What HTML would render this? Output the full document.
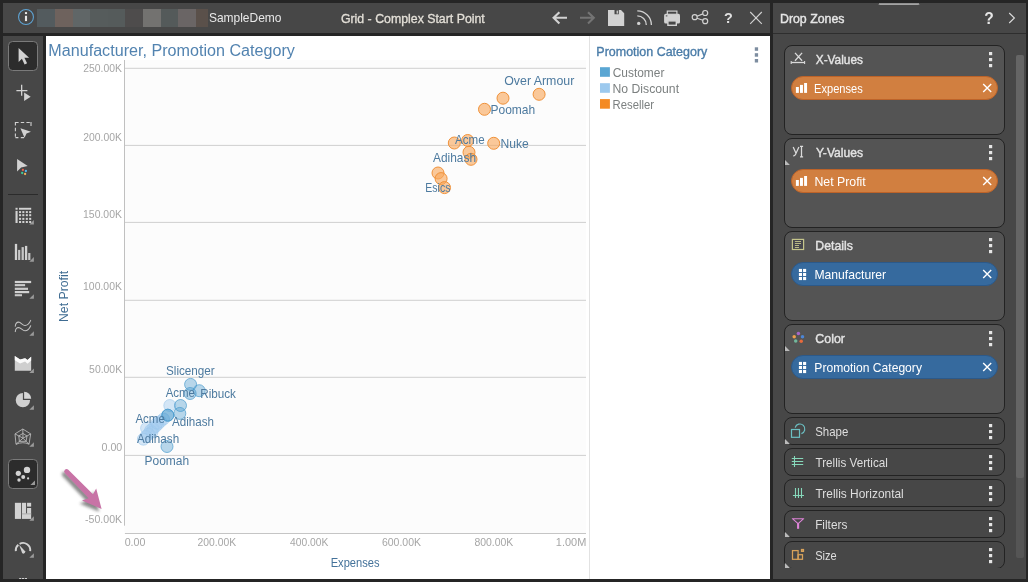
<!DOCTYPE html>
<html lang="en"><head><meta charset="utf-8"><title>Grid - Complex Start Point</title>
<style>
html,body{margin:0;padding:0}
body{width:1028px;height:582px;overflow:hidden;background:#252525;position:relative;font-family:"Liberation Sans", sans-serif;}
div,svg,span,i{position:absolute;box-sizing:border-box}
.t{white-space:nowrap;line-height:20px;transform-origin:0 0;display:inline-block}
.t.b{font-weight:bold}
.ov{left:0;top:0;overflow:visible}
#topbar{left:3px;top:3px;width:767px;height:30px;background:#474747}
.blur i{top:6px;height:17.8px;display:block}
#toolbar{left:3px;top:36px;width:40px;height:543px;background:#474747}
.sel{left:5px;width:30px;height:30px;border:1px solid #7a7a7a;border-radius:4.5px;background:#2c2c2c}
.sep{left:5px;top:158px;width:30px;height:1px;background:#2b2b2b}
#canvas{left:46px;top:36px;width:724px;height:543px;background:#fff;overflow:hidden}
#panel{left:773px;top:3px;width:253px;height:576px;background:#474747;overflow:hidden}
.hline{left:0;top:30px;width:253px;height:1px;background:#2e2e2e}
.track{left:243px;top:52px;width:8px;height:502.6px;background:#555;border-radius:2px}
.thumb{left:243px;top:52px;width:8px;height:423.4px;background:#656565;border-radius:2px}
#zones{left:0;top:0;width:240px;height:564.6px;overflow:hidden}
.zone{left:11px;width:221px;border:1px solid #232323;border-radius:8px}
.zone.big{height:90px;background:#545454}
.zone.small{background:#474747}
.pill{left:6px;top:30px;width:207px;height:24px;border-radius:12px}
.pill.o{background:#d17f40;border:1px solid #bd6329}
.pill.b{background:#366a9e;border:1px solid #2c5989}
</style></head>
<body>

<div id="topbar">
  <div class="blur"><i style="left:34.0px;width:18.3px;background:#535b5e"></i><i style="left:52.0px;width:17.8px;background:#6e625d"></i><i style="left:69.5px;width:17.8px;background:#606667"></i><i style="left:87.0px;width:17.9px;background:#565c5c"></i><i style="left:104.6px;width:17.9px;background:#555b5b"></i><i style="left:122.2px;width:18.2px;background:#4e4c4c"></i><i style="left:140.1px;width:18.1px;background:#737270"></i><i style="left:157.9px;width:17.3px;background:#545a5a"></i><i style="left:174.9px;width:18.8px;background:#6a6565"></i><i style="left:193.4px;width:11.9px;background:#5a504a"></i></div>
  <span class="t " style="left:205px;top:5px;font-size:12.6px;color:#e8e8e8;transform:translateX(0.89px) scaleX(0.9520);">SampleDemo</span>
  <span class="t " style="left:337px;top:6px;font-size:12.6px;color:#e4e0d8;transform:translateX(0.91px) scaleX(0.9788);-webkit-text-stroke:0.3px #e4e0d8;">Grid - Complex Start Point</span>
  <svg class="ov" width="767" height="30" viewBox="3 3 767 30">
    <!-- info -->
    <circle cx="26" cy="17" r="7.45" fill="none" stroke="#5ea3d3" stroke-width="1.1"/>
    <rect x="24.95" y="15.8" width="2.1" height="5.3" fill="#e8e8e8"/><rect x="24.95" y="12.1" width="2.1" height="1.95" fill="#e8e8e8"/>
    <!-- back -->
    <path d="M567 17.8H553.6M559.4 12.2L553.6 17.8l5.8 5.6" fill="none" stroke="#d2d2d2" stroke-width="2.1"/>
    <!-- forward (disabled) -->
    <path d="M580 17.8h13.6M588 12.2l5.8 5.6-5.8 5.6" fill="none" stroke="#747474" stroke-width="2.1"/>
    <!-- save -->
    <path d="M608 10h13l3.2 3.2V26H608z M614.5 10v4.2h4.3V10z" fill="#d2d2d2" fill-rule="evenodd"/>
    <rect x="616.6" y="10.6" width="1.3" height="3" fill="#d2d2d2"/>
    <!-- rss -->
    <circle cx="638.7" cy="23.4" r="1.7" fill="#d2d2d2"/>
    <path d="M637.3 15.9a9 9 0 0 1 9 9" fill="none" stroke="#d2d2d2" stroke-width="1.3"/>
    <path d="M637.3 10.9a14 14 0 0 1 14.1 14" fill="none" stroke="#d2d2d2" stroke-width="1.3"/>
    <!-- print -->
    <rect x="664.1" y="13.8" width="15.9" height="9.8" rx="1.6" fill="#d2d2d2"/>
    <rect x="667.3" y="11.1" width="9.6" height="3.2" fill="#474747" stroke="#d2d2d2" stroke-width="1.2"/>
    <rect x="667.9" y="20.9" width="8.4" height="4.4" fill="#474747" stroke="#d2d2d2" stroke-width="1.4"/>
    <rect x="665.8" y="15.4" width="1.6" height="1" fill="#474747"/>
    <!-- share -->
    <g fill="none" stroke="#d2d2d2" stroke-width="1.2"><circle cx="694.7" cy="17.2" r="2.5"/><circle cx="705.2" cy="13" r="2.5"/><circle cx="705.2" cy="21.2" r="2.5"/><path d="M697 16.2l5.9-2.3M697 18.2l5.9 2.1"/></g>
    <!-- close -->
    <path d="M750.2 12l11.6 11.8M761.8 12L750.2 23.8" stroke="#d2d2d2" stroke-width="1.1" fill="none"/>
  </svg>
  <span class="t b" style="left:720px;top:5px;font-size:15px;color:#e0e0e0;transform:translateX(0.88px) scaleX(0.9600);">?</span>
</div>

<div id="toolbar">
  <div class="sel" style="top:5px"></div>
  <div class="sel" style="top:423px"></div>
  <div class="sep"></div>
  <svg class="ov" width="40" height="543" viewBox="3 36 40 543">
    <g fill="#d2d2d2">
    <!-- pointer -->
    <path d="M18.6 48.1V62l3.3-3.2 2.7 5.6 2.5-1.2-2.7-5.5h4.7z"/>
    <!-- plus + arrow -->
    <path d="M21 84.8h1.3v5.2h5.1v1.3h-5.1v4.5H21v-4.5h-4.6V90H21z"/>
    <path d="M24.1 92.6l6.6 4.2-6.6 4.1z"/>
    <!-- marquee -->
    <path d="M20.4 128.2l10.6 3.5-4.5 1.8-2 4.2z"/>
    <!-- pointer + dots -->
    <path d="M17.1 159.1l10.6 6.9-6.6 1.5-4 3.9z"/>
    </g>
    <path d="M15.4 122.5h3.2M20.8 122.5h3.4M26.4 122.5h3.4M31 122.1v4M15.4 122.1v3.4M15.4 127.8v3.4M15.4 133.4v3.4M15.4 137.6h3M20.8 137.6h3.2" fill="none" stroke="#d2d2d2" stroke-width="1.1"/>
    <circle cx="22.9" cy="169.9" r="1.15" fill="#ea6350"/><circle cx="25.9" cy="171" r="1.15" fill="#52b8ee"/>
    <circle cx="22.2" cy="173" r="1.15" fill="#3ecb9b"/><circle cx="25.1" cy="174" r="1.15" fill="#f2b25e"/>
    <!-- grid -->
    <g fill="#d2d2d2">
      <rect x="15.5" y="207.8" width="2.1" height="1.9"/><rect x="15.5" y="210.9" width="2.1" height="12.1"/><rect x="19" y="207.8" width="12.2" height="1.9"/>
      <rect x="19.05" y="211.1" width="2.05" height="2"/><rect x="19.05" y="214.2" width="2.05" height="2"/><rect x="19.05" y="217.85" width="2.05" height="2"/><rect x="19.05" y="221.0" width="2.05" height="2"/><rect x="22.3" y="211.1" width="2.05" height="2"/><rect x="22.3" y="214.2" width="2.05" height="2"/><rect x="22.3" y="217.85" width="2.05" height="2"/><rect x="22.3" y="221.0" width="2.05" height="2"/><rect x="25.8" y="211.1" width="2.05" height="2"/><rect x="25.8" y="214.2" width="2.05" height="2"/><rect x="25.8" y="217.85" width="2.05" height="2"/><rect x="25.8" y="221.0" width="2.05" height="2"/><rect x="29.15" y="211.1" width="2.05" height="2"/><rect x="29.15" y="214.2" width="2.05" height="2"/><rect x="29.15" y="217.85" width="2.05" height="2"/><rect x="29.15" y="221.0" width="2.05" height="2"/>
    </g>
    <path d="M33.9 220.0V224.6H29.299999999999997z" fill="#9a9a9a"/>
    <!-- bars -->
    <g fill="#d2d2d2"><rect x="14.85" y="243.9" width="2.3" height="16.1"/><rect x="18.1" y="249.9" width="2.2" height="10.1" fill="#c6c6c6"/><rect x="21.55" y="247.1" width="2.3" height="12.9" fill="#c6c6c6"/><rect x="24.95" y="245.9" width="2.3" height="14.1"/><rect x="28.2" y="253" width="2.2" height="7" fill="#c6c6c6"/></g>
    <path d="M33.9 257.09999999999997V261.7H29.299999999999997z" fill="#9a9a9a"/>
    <!-- horizontal bars -->
    <g fill="#d2d2d2"><rect x="14.8" y="280.9" width="16.35" height="2.2"/><rect x="14.8" y="284.1" width="10.3" height="2.1" fill="#cacaca"/><rect x="14.8" y="287.7" width="13.2" height="2.2" fill="#cacaca"/><rect x="14.8" y="291" width="14.4" height="2.2"/><rect x="14.8" y="294.2" width="7.2" height="2.05" fill="#cacaca"/></g>
    <path d="M33.9 294.2V298.8H29.299999999999997z" fill="#9a9a9a"/>
    <!-- waves -->
    <g fill="none" stroke="#c2c2c2" stroke-width="1.05" stroke-linecap="round"><path d="M15.3 326.3C15.5 323.2 17.2 322.1 18.6 322.1 21 322.2 22.6 325.6 25 325.5 27.4 325.4 29.6 323 30.7 320.4"/><path d="M15.3 331.6C15.5 328.5 17.2 327.4 18.6 327.4 21 327.5 22.6 330.9 25 330.8 27.4 330.7 29.6 328.3 30.7 325.7"/></g>
    <path d="M33.9 331.2V335.8H29.299999999999997z" fill="#9a9a9a"/>
    <!-- area -->
    <path d="M14.8 356L20.1 359.6 25.1 358.2 27.5 359.9 31.15 356.7V370.7H14.8z" fill="#cfcfcf"/>
    <path d="M14.8 356L20.1 359.6 25.1 358.2 27.5 359.9 31.15 356.7V360.6L27.5 363.7 25.1 361.5 20.1 363.5 14.8 360.3z" fill="#fafafa"/>
    <path d="M33.9 368.4V373H29.299999999999997z" fill="#9a9a9a"/>
    <!-- pie -->
    <path d="M22.9 400.1V392.9A7.2 7.2 0 1 0 30.1 400.1z" fill="#d0d0d0"/>
    <path d="M24.1 398.7V391.7A7.1 7.1 0 0 1 31.2 398.7z" fill="#d6d6d6"/>
    <path d="M33.9 405.2V409.8H29.299999999999997z" fill="#9a9a9a"/>
    <!-- radar -->
    <g fill="none" stroke="#bdbdbd" stroke-width="0.85" stroke-linejoin="round"><path d="M22.8 429 L30.7 433.9 L29 444.2 Q23 441.2 16 444.3 L15 433.9z"/><path d="M22.9 433.4 L27.0 436.0 L26.1 441.3 L19.4 441.4 L18.8 436.0z"/><path d="M23 438.2L22.8 429M23 438.2L30.7 433.9M23 438.2L29 444.2M23 438.2L16 444.3M23 438.2L15 433.9"/></g>
    <path d="M33.9 442.2V446.8H29.299999999999997z" fill="#9a9a9a"/>
    <!-- scatter -->
    <g fill="#d2d2d2"><circle cx="27" cy="469.9" r="3.2"/><circle cx="18.3" cy="473.3" r="2.6"/><circle cx="23.2" cy="477.1" r="2"/><circle cx="19" cy="480" r="1.7"/><circle cx="28.1" cy="478.4" r="1.1"/></g>
    <path d="M35 480.4V485H30.4z" fill="#9a9a9a"/>
    <!-- treemap -->
    <g fill="#d2d2d2"><rect x="14.9" y="502.8" width="6.15" height="16.1"/><rect x="21.9" y="502.8" width="4.2" height="11"/><rect x="27.05" y="502.8" width="4.1" height="3.8"/><rect x="27.05" y="508" width="4.1" height="5.8"/><rect x="21.9" y="513.6" width="9.25" height="5.3"/><rect x="21.9" y="513.5" width="9.25" height="1" fill="#b4b4b4"/></g>
    <path d="M33.9 516.1999999999999V520.8H29.299999999999997z" fill="#9a9a9a"/>
    <!-- gauge -->
    <path d="M15.8 551.08A7.25 7.25 0 0 1 18.34 544.65M19.6 543.8A7.25 7.25 0 0 1 30.2 551.08" fill="none" stroke="#d2d2d2" stroke-width="1.9"/>
    <path d="M19.1 544.8L25.05 551.3A1.75 1.75 0 0 1 22.15 553.1z" fill="#d2d2d2"/>
    <path d="M33.9 553.1999999999999V557.8H29.299999999999997z" fill="#9a9a9a"/>
    <!-- cut icon at bottom -->
    <path d="M19.2 578.5h2M21.9 578.5h2.4M25 578.5h2" stroke="#d2d2d2" stroke-width="1"/>
  </svg>
</div>

<div id="canvas">
  <svg class="ov" width="724" height="543" viewBox="46 36 724 543">
    <rect x="124.5" y="60" width="461.5" height="472" fill="#fcfcfc"/>
    <path d="M125 68.3H586" stroke="#cfcfcf" stroke-width="1"/><path d="M125 145.4H586" stroke="#cfcfcf" stroke-width="1"/><path d="M125 222.4H586" stroke="#cfcfcf" stroke-width="1"/><path d="M125 300.3H586" stroke="#cfcfcf" stroke-width="1"/><path d="M125 377.3H586" stroke="#cfcfcf" stroke-width="1"/><path d="M125 455.4H586" stroke="#cfcfcf" stroke-width="1"/>
    <path d="M124.5 60V525.7" stroke="#c0c0c0" stroke-width="1"/>
    <path d="M124.9 533.45H586" stroke="#c2c2c2" stroke-width="1"/>
    <path d="M589.5 36V579" stroke="#e2e2e2" stroke-width="1"/>
    <g stroke-width="1" fill-opacity="0.62">
      </g><g stroke-width="1" fill-opacity="0.45" stroke-opacity="0.6"><circle cx="169.8" cy="405.5" r="6" fill="#a4cdf0" stroke="#9cc8ec"/><circle cx="163.5" cy="419" r="6" fill="#a4cdf0" stroke="#9cc8ec"/><circle cx="160.5" cy="421.5" r="6" fill="#a4cdf0" stroke="#9cc8ec"/><circle cx="158" cy="424" r="6" fill="#a4cdf0" stroke="#9cc8ec"/><circle cx="155.5" cy="426.5" r="6" fill="#a4cdf0" stroke="#9cc8ec"/><circle cx="153" cy="428.5" r="6" fill="#a4cdf0" stroke="#9cc8ec"/><circle cx="150.5" cy="430.5" r="6" fill="#a4cdf0" stroke="#9cc8ec"/><circle cx="146.6" cy="428.2" r="6" fill="#a4cdf0" stroke="#9cc8ec"/><circle cx="152" cy="432" r="6" fill="#a4cdf0" stroke="#9cc8ec"/><circle cx="148.5" cy="434" r="6" fill="#a4cdf0" stroke="#9cc8ec"/><circle cx="146" cy="436.5" r="6" fill="#a4cdf0" stroke="#9cc8ec"/><circle cx="143.4" cy="439.2" r="6" fill="#a4cdf0" stroke="#9cc8ec"/><circle cx="157" cy="423" r="6" fill="#a4cdf0" stroke="#9cc8ec"/></g>
    <g stroke-width="1" fill-opacity="0.39" stroke-opacity="0.7"><circle cx="190.6" cy="384.4" r="6" fill="#4a9bcd" stroke="#4a9bcd"/><circle cx="190.1" cy="393.5" r="6" fill="#4a9bcd" stroke="#4a9bcd"/><circle cx="199.2" cy="390.7" r="6" fill="#4a9bcd" stroke="#4a9bcd"/><circle cx="180.5" cy="405.5" r="6" fill="#4a9bcd" stroke="#4a9bcd"/><circle cx="179.8" cy="413.4" r="6" fill="#4a9bcd" stroke="#4a9bcd"/><circle cx="167.8" cy="415.2" r="6" fill="#4a9bcd" stroke="#4a9bcd"/><circle cx="167.8" cy="415.2" r="6" fill="#4a9bcd" stroke="#4a9bcd"/><circle cx="167.0" cy="446.5" r="6" fill="#4a9bcd" stroke="#4a9bcd"/></g><g stroke-width="1" fill-opacity="0.62">
      <circle cx="539.1" cy="94.3" r="6" fill="#f9a85c" stroke="#f0923a"/><circle cx="503" cy="98.2" r="6" fill="#f9a85c" stroke="#f0923a"/><circle cx="484.5" cy="109.3" r="6" fill="#f9a85c" stroke="#f0923a"/><circle cx="493.7" cy="143.3" r="6" fill="#f9a85c" stroke="#f0923a"/><circle cx="467.7" cy="140.5" r="6" fill="#f9a85c" stroke="#f0923a"/><circle cx="454.3" cy="143" r="6" fill="#f9a85c" stroke="#f0923a"/><circle cx="469" cy="152.3" r="6" fill="#f9a85c" stroke="#f0923a"/><circle cx="471" cy="159.3" r="6" fill="#f9a85c" stroke="#f0923a"/><circle cx="438" cy="173" r="6" fill="#f9a85c" stroke="#f0923a"/><circle cx="441.1" cy="178.6" r="6" fill="#f9a85c" stroke="#f0923a"/><circle cx="444.5" cy="187.6" r="6" fill="#f9a85c" stroke="#f0923a"/>
    </g>
    <!-- legend swatches -->
    <rect x="600" y="67.2" width="9.9" height="9.6" fill="#5aa6d3"/>
    <rect x="600" y="83.2" width="9.9" height="9.6" fill="#9cc9ee"/>
    <rect x="600" y="99.1" width="9.9" height="9.6" fill="#f48a22"/>
    <g fill="#7d8da0"><rect x="754.8" y="47.3" width="3.3" height="3.5"/><rect x="754.8" y="53.2" width="3.3" height="3.5"/><rect x="754.8" y="59" width="3.3" height="3.5"/></g>
    <!-- annotation arrow -->
    <defs><filter id="sh" x="-40%" y="-40%" width="180%" height="180%"><feGaussianBlur stdDeviation="1.6"/></filter></defs>
    <g transform="translate(-2.4,2.8)" opacity="0.55" filter="url(#sh)"><path d="M64.9 473.2L88.6 498.3 82 500.6 101.6 509 96.2 488.4 93 494.3 68.3 469.8A2.4 2.4 0 0 0 64.9 473.2z" fill="#2a2a2a"/></g>
    <path d="M64.9 473.2L88.6 498.3 82 500.6 101.6 509 96.2 488.4 93 494.3 68.3 469.8A2.4 2.4 0 0 0 64.9 473.2z" fill="#c873a6"/>
  </svg>
  <span class="t " style="left:2px;top:5px;font-size:15.6px;color:#5283b0;transform:translateX(0.31px) scaleX(1.0346);">Manufacturer, Promotion Category</span>
  <span class="t " style="left:37px;top:22px;font-size:10.5px;color:#a6a6a6;transform:translateX(0.31px) scaleX(0.9870);">250.00K</span><span class="t " style="left:37px;top:91px;font-size:10.5px;color:#a6a6a6;transform:translateX(0.31px) scaleX(0.9870);">200.00K</span><span class="t " style="left:37px;top:168px;font-size:10.5px;color:#a6a6a6;transform:translateX(0.05px) scaleX(0.9935);">150.00K</span><span class="t " style="left:37px;top:240px;font-size:10.5px;color:#a6a6a6;transform:translateX(0.05px) scaleX(0.9935);">100.00K</span><span class="t " style="left:43px;top:323px;font-size:10.5px;color:#a6a6a6;transform:translateX(0.10px) scaleX(0.9908);">50.00K</span><span class="t " style="left:55px;top:401px;font-size:10.5px;color:#a6a6a6;transform:translateX(0.49px) scaleX(1.0154);">0.00</span><span class="t " style="left:39px;top:473px;font-size:10.5px;color:#a6a6a6;transform:translateX(0.10px) scaleX(1.0056);">-50.00K</span>
  <span class="t " style="left:78px;top:496px;font-size:10.5px;color:#a6a6a6;transform:translateX(0.69px) scaleX(1.0154);">0.00</span><span class="t " style="left:151px;top:496px;font-size:10.5px;color:#a6a6a6;transform:translateX(0.61px) scaleX(0.9844);">200.00K</span><span class="t " style="left:244px;top:496px;font-size:10.5px;color:#a6a6a6;transform:translateX(0.06px) scaleX(0.9781);">400.00K</span><span class="t " style="left:335px;top:496px;font-size:10.5px;color:#a6a6a6;transform:translateX(0.90px) scaleX(1.0000);">600.00K</span><span class="t " style="left:428px;top:496px;font-size:10.5px;color:#a6a6a6;transform:translateX(0.40px) scaleX(0.9948);">800.00K</span><span class="t " style="left:509px;top:496px;font-size:10.5px;color:#a6a6a6;transform:translateX(0.82px) scaleX(1.0436);">1.00M</span>
  <span class="t " style="left:284px;top:517px;font-size:11.9px;color:#44729a;transform:translateX(0.66px) scaleX(0.9360);">Expenses</span>
  <span class="t " style="left:8px;top:285.83px;font-size:11.9px;color:#3f6c92;transform:rotate(-90deg) scaleX(1.0309);">Net Profit</span>
  <span class="t " style="left:458px;top:35px;font-size:12.1px;color:#4d7a9f;transform:translateX(0.19px) scaleX(1.0229);">Over Armour</span>
  <span class="t " style="left:444px;top:64px;font-size:12.1px;color:#4d7a9f;transform:translateX(0.51px) scaleX(0.9919);">Poomah</span>
  <span class="t " style="left:409px;top:94px;font-size:12.1px;color:#4d7a9f;transform:translateX(0.00px) scaleX(0.9574);">Acme</span>
  <span class="t " style="left:454px;top:98px;font-size:12.1px;color:#4d7a9f;transform:translateX(0.40px) scaleX(1.0019);">Nuke</span>
  <span class="t " style="left:387px;top:112px;font-size:12.1px;color:#4d7a9f;transform:translateX(0.00px) scaleX(0.9837);">Adihash</span>
  <span class="t " style="left:379px;top:142px;font-size:12.1px;color:#4d7a9f;transform:translateX(0.33px) scaleX(0.8691);">Esics</span>
  <span class="t " style="left:120px;top:325px;font-size:12.1px;color:#4d7a9f;transform:translateX(0.02px) scaleX(0.9668);">Slicenger</span>
  <span class="t " style="left:119px;top:347px;font-size:12.1px;color:#4d7a9f;transform:translateX(0.70px) scaleX(0.9475);">Acme</span>
  <span class="t " style="left:154px;top:348px;font-size:12.1px;color:#4d7a9f;transform:translateX(0.23px) scaleX(0.9667);">Ribuck</span>
  <span class="t " style="left:126px;top:376px;font-size:12.1px;color:#4d7a9f;transform:translateX(0.00px) scaleX(0.9581);">Adihash</span>
  <span class="t " style="left:89px;top:373px;font-size:12.1px;color:#4d7a9f;transform:translateX(0.40px) scaleX(0.9508);">Acme</span>
  <span class="t " style="left:91px;top:393px;font-size:12.1px;color:#4d7a9f;transform:translateX(0.00px) scaleX(0.9651);">Adihash</span>
  <span class="t " style="left:98px;top:415px;font-size:12.1px;color:#4d7a9f;transform:translateX(0.51px) scaleX(0.9896);">Poomah</span>
  <span class="t " style="left:550px;top:6px;font-size:12.4px;color:#4a7ca8;transform:translateX(0.34px) scaleX(1.0068);-webkit-text-stroke:0.35px #4a7ca8;">Promotion Category</span>
  <span class="t " style="left:566px;top:27px;font-size:12.1px;color:#7c8080;transform:translateX(0.71px) scaleX(0.9855);">Customer</span>
  <span class="t " style="left:566px;top:43px;font-size:12.1px;color:#7c8080;transform:translateX(0.49px) scaleX(1.0100);">No Discount</span>
  <span class="t " style="left:566px;top:59px;font-size:12.1px;color:#7c8080;transform:translateX(0.57px) scaleX(0.9341);">Reseller</span>
</div>

<div id="panel">
  <div class="hline"></div>
  <div class="track"></div><div class="thumb"></div>
  <div id="zones"><div class="zone big" style="top:42px"><div class="pill o"></div></div><span class="t " style="left:42px;top:47px;font-size:12.6px;color:#e4e4e4;transform:translateX(0.80px) scaleX(0.9380);-webkit-text-stroke:0.4px #e4e4e4;">X-Values</span><span class="t " style="left:41px;top:76px;font-size:12.2px;color:#ffffff;transform:translateX(0.09px) scaleX(0.9096);">Expenses</span><div class="zone big" style="top:135px"><div class="pill o"></div></div><span class="t " style="left:42px;top:140px;font-size:12.6px;color:#e4e4e4;transform:translateX(0.90px) scaleX(0.9600);-webkit-text-stroke:0.4px #e4e4e4;">Y-Values</span><span class="t " style="left:41px;top:169px;font-size:12.2px;color:#ffffff;transform:translateX(0.39px) scaleX(1.0111);">Net Profit</span><div class="zone big" style="top:228px"><div class="pill b"></div></div><span class="t " style="left:42px;top:233px;font-size:12.6px;color:#e4e4e4;transform:translateX(0.37px) scaleX(0.9760);-webkit-text-stroke:0.4px #e4e4e4;">Details</span><span class="t " style="left:41px;top:262px;font-size:12.2px;color:#ffffff;transform:translateX(0.40px) scaleX(0.9979);">Manufacturer</span><div class="zone big" style="top:321px"><div class="pill b"></div></div><span class="t " style="left:42px;top:326px;font-size:12.6px;color:#e4e4e4;transform:translateX(0.31px) scaleX(0.9831);-webkit-text-stroke:0.4px #e4e4e4;">Color</span><span class="t " style="left:41px;top:355px;font-size:12.2px;color:#ffffff;transform:translateX(0.31px) scaleX(0.9930);">Promotion Category</span><div class="zone small" style="top:414px;height:28px"></div><span class="t " style="left:42px;top:419px;font-size:12.6px;color:#dedede;transform:translateX(0.22px) scaleX(0.9106);">Shape</span><div class="zone small" style="top:445px;height:28px"></div><span class="t " style="left:42px;top:450px;font-size:12.6px;color:#dedede;transform:translateX(0.47px) scaleX(0.9290);">Trellis Vertical</span><div class="zone small" style="top:476px;height:28px"></div><span class="t " style="left:42px;top:481px;font-size:12.6px;color:#dedede;transform:translateX(0.46px) scaleX(0.9463);">Trellis Horizontal</span><div class="zone small" style="top:507px;height:28px"></div><span class="t " style="left:42px;top:512px;font-size:12.6px;color:#dedede;transform:translateX(0.16px) scaleX(0.9374);">Filters</span><div class="zone small" style="top:538px;height:28px"></div><span class="t " style="left:42px;top:543px;font-size:12.6px;color:#dedede;transform:translateX(0.24px) scaleX(0.8774);">Size</span></div>
  <div class="pfoot"></div>
  <span class="t " style="left:6px;top:6px;font-size:12.6px;color:#e6e6e6;transform:translateX(0.96px) scaleX(0.9807);-webkit-text-stroke:0.4px #e6e6e6;">Drop Zones</span>
  <span class="t b" style="left:211px;top:6px;font-size:16px;color:#e6e6e6;transform:translateX(0.27px) scaleX(0.9750);">?</span>
  <svg class="ov" width="253" height="576" viewBox="773 3 253 576">
    <path d="M1009.2 13l5.2 5-5.2 5" fill="none" stroke="#dcdcdc" stroke-width="1.1"/>
    <path d="M879 4.9l1-1.6 1 1.6l1-1.6 1 1.6l1-1.6 1 1.6l1-1.6 1 1.6l1-1.6 1 1.6l1-1.6 1 1.6l1-1.6 1 1.6l1-1.6 1 1.6l1-1.6 1 1.6l1-1.6 1 1.6l1-1.6 1 1.6l1-1.6 1 1.6l1-1.6 1 1.6l1-1.6 1 1.6l1-1.6 1 1.6l1-1.6 1 1.6l1-1.6 1 1.6l1-1.6 1 1.6l1-1.6 1 1.6l1-1.6 1 1.6" fill="none" stroke="#dedede" stroke-width="0.8"/>
    <rect x="989" y="52" width="3.2" height="3.2" fill="#e6e6e6"/><rect x="989" y="58" width="3.2" height="3.2" fill="#e6e6e6"/><rect x="989" y="64" width="3.2" height="3.2" fill="#e6e6e6"/><rect x="989" y="145" width="3.2" height="3.2" fill="#e6e6e6"/><rect x="989" y="151" width="3.2" height="3.2" fill="#e6e6e6"/><rect x="989" y="157" width="3.2" height="3.2" fill="#e6e6e6"/><rect x="989" y="238" width="3.2" height="3.2" fill="#e6e6e6"/><rect x="989" y="244" width="3.2" height="3.2" fill="#e6e6e6"/><rect x="989" y="250" width="3.2" height="3.2" fill="#e6e6e6"/><rect x="989" y="331" width="3.2" height="3.2" fill="#e6e6e6"/><rect x="989" y="337" width="3.2" height="3.2" fill="#e6e6e6"/><rect x="989" y="343" width="3.2" height="3.2" fill="#e6e6e6"/><rect x="989" y="424" width="3.2" height="3.2" fill="#e6e6e6"/><rect x="989" y="430" width="3.2" height="3.2" fill="#e6e6e6"/><rect x="989" y="436" width="3.2" height="3.2" fill="#e6e6e6"/><rect x="989" y="455" width="3.2" height="3.2" fill="#e6e6e6"/><rect x="989" y="461" width="3.2" height="3.2" fill="#e6e6e6"/><rect x="989" y="467" width="3.2" height="3.2" fill="#e6e6e6"/><rect x="989" y="486" width="3.2" height="3.2" fill="#e6e6e6"/><rect x="989" y="492" width="3.2" height="3.2" fill="#e6e6e6"/><rect x="989" y="498" width="3.2" height="3.2" fill="#e6e6e6"/><rect x="989" y="517" width="3.2" height="3.2" fill="#e6e6e6"/><rect x="989" y="523" width="3.2" height="3.2" fill="#e6e6e6"/><rect x="989" y="529" width="3.2" height="3.2" fill="#e6e6e6"/><rect x="989" y="548" width="3.2" height="3.2" fill="#e6e6e6"/><rect x="989" y="554" width="3.2" height="3.2" fill="#e6e6e6"/><rect x="989" y="560" width="3.2" height="3.2" fill="#e6e6e6"/>
    <path d="M785 160.0V164.9H789.9z" fill="#bbbbbb"/><path d="M785 346.0V350.9H789.9z" fill="#bbbbbb"/><path d="M785 439.0V443.9H789.9z" fill="#bbbbbb"/><path d="M785 532.0V536.9H789.9z" fill="#bbbbbb"/><path d="M785 563.0V567.9H789.9z" fill="#bbbbbb"/>
    <path d="M983.2 84l8 8M991.2 84l-8 8" stroke="#fff" stroke-width="1.4" fill="none"/><path d="M983.2 177l8 8M991.2 177l-8 8" stroke="#fff" stroke-width="1.4" fill="none"/><path d="M983.2 270l8 8M991.2 270l-8 8" stroke="#fff" stroke-width="1.4" fill="none"/><path d="M983.2 363l8 8M991.2 363l-8 8" stroke="#fff" stroke-width="1.4" fill="none"/>
    <g fill="#fff"><rect x="795.9" y="87.0" width="2.95" height="5.9"/><rect x="800" y="84.9" width="2.95" height="8"/><rect x="804.1" y="83" width="2.95" height="9.9"/></g><g fill="#fff"><rect x="795.9" y="180.0" width="2.95" height="5.9"/><rect x="800" y="177.9" width="2.95" height="8"/><rect x="804.1" y="176" width="2.95" height="9.9"/></g><g fill="#fff"><rect x="798.9" y="268.9" width="3.1" height="3.1"/><rect x="798.9" y="272.95" width="3.1" height="3.1"/><rect x="798.9" y="277.0" width="3.1" height="3.1"/><rect x="803.05" y="268.9" width="3.1" height="3.1"/><rect x="803.05" y="272.95" width="3.1" height="3.1"/><rect x="803.05" y="277.0" width="3.1" height="3.1"/></g><g fill="#fff"><rect x="798.9" y="361.9" width="3.1" height="3.1"/><rect x="798.9" y="365.95" width="3.1" height="3.1"/><rect x="798.9" y="370.0" width="3.1" height="3.1"/><rect x="803.05" y="361.9" width="3.1" height="3.1"/><rect x="803.05" y="365.95" width="3.1" height="3.1"/><rect x="803.05" y="370.0" width="3.1" height="3.1"/></g>
    <!-- X icon -->
    <g stroke="#dadada" fill="none"><path d="M795 52.9l7.1 7.8M802.1 52.9l-7.1 7.8" stroke-width="1.3"/><path d="M791.2 62.5h13.4" stroke-width="1.3"/><path d="M791.2 61.1v2.9M804.6 61.1v2.9" stroke-width="1.1"/></g>
    <!-- Y icon -->
    <g stroke="#dadada" fill="none" stroke-width="1.25"><path d="M793.2 147l2.9 6.6M798.9 147l-3.3 7.2q-.8 1.7-2.4 1.6"/><path d="M801.5 146.4v10.5M800 146.4h3.1M800 156.9h3.1"/></g>
    <!-- details -->
    <g stroke="#c5c58b" fill="none"><rect x="792.4" y="239.4" width="11.2" height="10.1" stroke-width="1.2" fill="#46464c"/><path d="M794.9 241.5h6.1M794.9 243.5h6.1M794.9 245.5h4.1M794.9 247.5h4.1" stroke-width="0.9"/></g>
    <!-- color -->
    <circle cx="798.4" cy="333.6" r="1.75" fill="#a566c8"/><circle cx="794.2" cy="336.8" r="1.75" fill="#f0a04c"/><circle cx="802.5" cy="336.8" r="1.75" fill="#4c86d6"/><circle cx="795.7" cy="341" r="1.75" fill="#72b89c"/><circle cx="801.2" cy="341.2" r="1.75" fill="#e86a3c"/>
    <!-- shape -->
    <g stroke="#6cc0c4" fill="none" stroke-width="1.2"><rect x="791.5" y="429.5" width="8" height="7.8"/><path d="M795.2 427.6A4.9 4.9 0 1 1 801.4 433.6"/></g>
    <!-- trellis v -->
    <g stroke="#86d8ba" fill="none" stroke-width="1.1"><path d="M791.8 458.5h11.4M791.8 461.5h11.4M791.8 464.5h11.4M794.5 455.9v11.2"/></g>
    <!-- trellis h -->
    <g stroke="#86d8ba" fill="none" stroke-width="1.1"><path d="M795.5 487.9v10M798.45 487.9v10M801.5 487.9v10M792.9 495.5h11.1"/></g>
    <!-- filter -->
    <path d="M792.4 518.7h11.3l-5.6 4.9z" fill="none" stroke="#de84d8" stroke-width="1.1" stroke-linejoin="round"/><rect x="797.05" y="523.2" width="2.1" height="5.6" fill="#de84d8"/>
    <!-- size -->
    <g stroke="#d8a25a" fill="none" stroke-width="1.25"><rect x="792.5" y="550.6" width="5.6" height="8.7"/><rect x="798.1" y="554.7" width="4.4" height="4.6"/><rect x="801.5" y="549.5" width="2" height="1.9"/></g>
  </svg>
</div>
</body></html>
